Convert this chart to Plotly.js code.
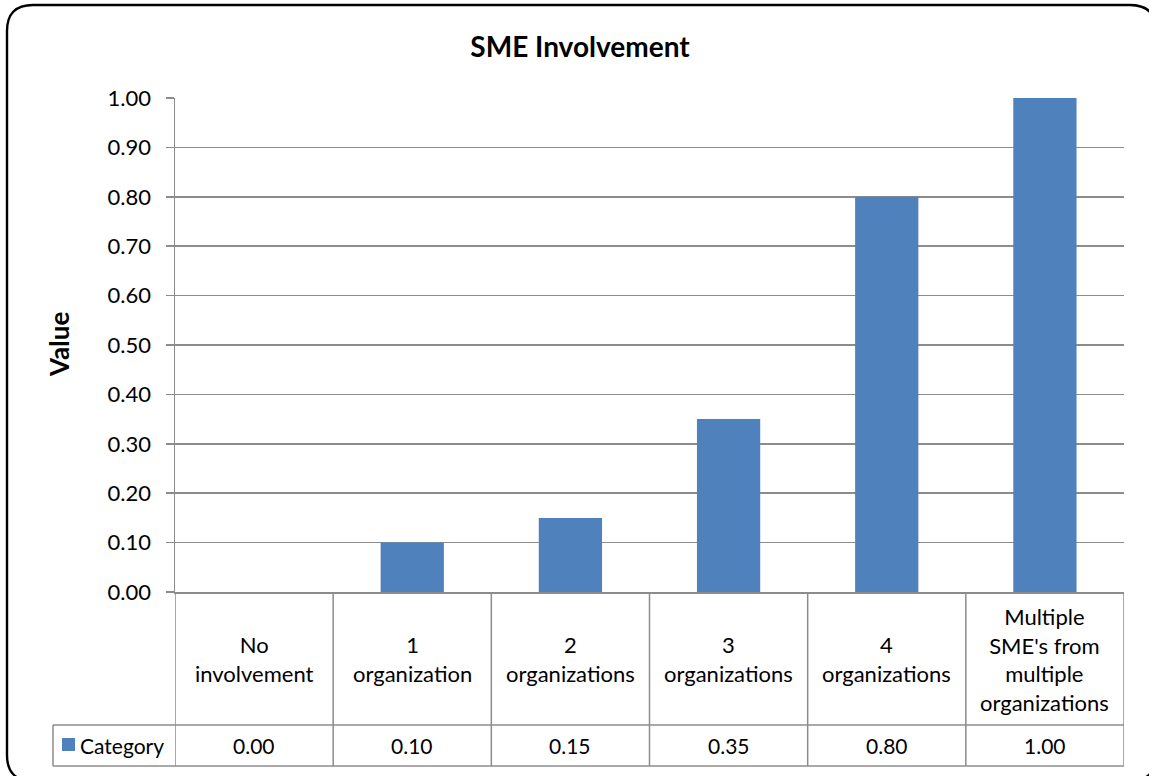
<!DOCTYPE html>
<html>
<head>
<meta charset="utf-8">
<script src="https://cdn.plot.ly/plotly-3.0.1.min.js"></script>
<style>html,body{margin:0;padding:0;background:#fff;}#chart{width:1149px;height:776px;}</style>
</head>
<body>
<div id="chart"></div>
<script>
const categories = ["No<br>involvement", "1<br>organization", "2<br>organizations", "3<br>organizations", "4<br>organizations", "Multiple<br>SME's from<br>multiple<br>organizations"];
const values = [0.00, 0.10, 0.15, 0.35, 0.80, 1.00];
const seriesName = "Category";
const yTickValues = [0, 0.1, 0.2, 0.3, 0.4, 0.5, 0.6, 0.7, 0.8, 0.9, 1.0];

const W = 1149, H = 776;
const L = 175, R = 1124, T = 98, B = 592;
const px = x => (x - L) / (R - L);
const py = y => (B - y) / (B - T);
const FONT = "Lato, 'Open Sans', sans-serif";
const BLUE = "#4F81BD";
const GRID = "#8c8c8c";

const xIdx = categories.map((c, i) => i);

const shapes = [];
const annotations = [];
// table lines
const rowMid = 725, rowBot = 766, legLeft = 53;
for (let i = 0; i <= categories.length; i++) {
  shapes.push({type: "line", xref: "x", yref: "paper", x0: i - 0.5, x1: i - 0.5, y0: 0, y1: py(rowBot), line: {color: GRID, width: 1.5}});
}
shapes.push({type: "line", xref: "paper", yref: "paper", x0: px(legLeft), x1: 1, y0: py(rowMid), y1: py(rowMid), line: {color: GRID, width: 1.5}});
shapes.push({type: "line", xref: "paper", yref: "paper", x0: px(legLeft), x1: 1, y0: py(rowBot), y1: py(rowBot), line: {color: GRID, width: 1.5}});
shapes.push({type: "line", xref: "paper", yref: "paper", x0: px(legLeft), x1: px(legLeft), y0: py(rowMid), y1: py(rowBot), line: {color: GRID, width: 1.5}});
// legend key square
shapes.push({type: "rect", xref: "paper", yref: "paper", x0: px(62), x1: px(75), y0: py(751), y1: py(738), fillcolor: BLUE, line: {width: 0}});
// outer rounded border
const bx0 = 7, by0 = 5, bx1 = 1156, by1 = 781, rr = 26;
const P = (x, y) => px(x) + "," + py(y);
const path = "M " + P(bx0 + rr, by0) + " L " + P(bx1 - rr, by0) + " Q " + P(bx1, by0) + " " + P(bx1, by0 + rr) +
  " L " + P(bx1, by1 - rr) + " Q " + P(bx1, by1) + " " + P(bx1 - rr, by1) +
  " L " + P(bx0 + rr, by1) + " Q " + P(bx0, by1) + " " + P(bx0, by1 - rr) +
  " L " + P(bx0, by0 + rr) + " Q " + P(bx0, by0) + " " + P(bx0 + rr, by0) + " Z";
shapes.push({type: "path", xref: "paper", yref: "paper", path: path, line: {color: "#000", width: 2.4}});

// table texts
categories.forEach((c, i) => {
  annotations.push({xref: "x", yref: "paper", x: i, y: py(659), text: c, showarrow: false, xanchor: "center", yanchor: "middle", align: "center", font: {family: FONT, size: 22, color: "#000"}});
  annotations.push({xref: "x", yref: "paper", x: i, y: py(745), text: values[i].toFixed(2), showarrow: false, xanchor: "center", yanchor: "middle", font: {family: FONT, size: 21, color: "#000"}});
});
annotations.push({xref: "paper", yref: "paper", x: px(78), y: py(745), text: seriesName, showarrow: false, xanchor: "left", yanchor: "middle", font: {family: FONT, size: 21, color: "#000"}});
// y axis title
annotations.push({xref: "paper", yref: "paper", x: px(59), y: py(345), text: "<b>Value</b>", showarrow: false, textangle: -90, xanchor: "center", yanchor: "middle", font: {family: FONT, size: 26, color: "#000"}});

const trace = {
  type: "bar", x: xIdx, y: values, name: seriesName,
  marker: {color: BLUE, line: {width: 0}},
  hoverinfo: "skip"
};

const layout = {
  width: W, height: H,
  margin: {l: L, r: W - R, t: T, b: H - B, pad: 0},
  paper_bgcolor: "#fff", plot_bgcolor: "#fff",
  showlegend: false, bargap: 0.6,
  title: {text: "<b>SME Involvement</b>", font: {family: FONT, size: 28, color: "#000"}, x: 580 / W, xref: "container", xanchor: "center", y: 1 - 47 / H, yref: "container", yanchor: "middle"},
  xaxis: {range: [-0.5, categories.length - 0.5], showticklabels: false, ticks: "", showgrid: false, zeroline: false, showline: true, linecolor: GRID, linewidth: 1.5, fixedrange: true},
  yaxis: {range: [0, 1], tickvals: yTickValues, tickformat: ".2f", ticks: "outside", ticklen: 8, tickcolor: GRID, tickwidth: 1.5, ticklabelstandoff: 10,
    showgrid: true, gridcolor: GRID, gridwidth: 1.5, zeroline: false, showline: true, linecolor: GRID, linewidth: 1.5,
    tickfont: {family: FONT, size: 22, color: "#000"}, fixedrange: true},
  shapes: shapes, annotations: annotations
};

Plotly.newPlot("chart", [trace], layout, {staticPlot: true, displayModeBar: false});
</script>
</body>
</html>
